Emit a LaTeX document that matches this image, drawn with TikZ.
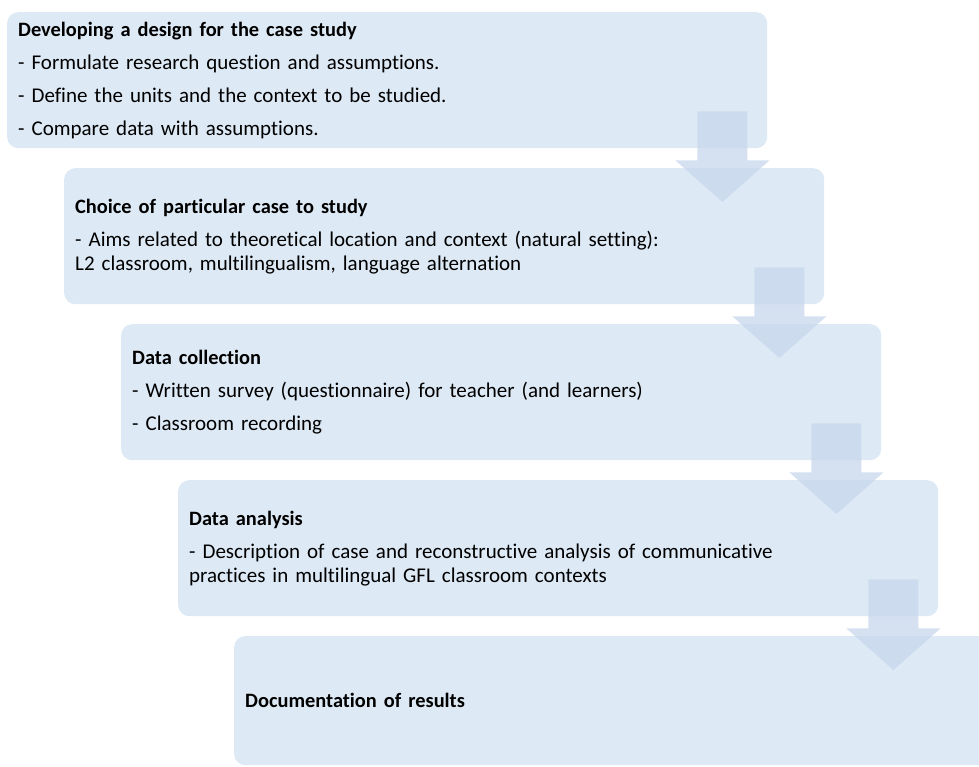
\documentclass[tikz,border=0pt]{standalone}
\usepackage{fontspec}
\setmainfont{Carlito}[Ligatures=NoCommon]
\usetikzlibrary{calc}
\definecolor{stepfill}{RGB}{221,233,245}
\definecolor{flowfill}{RGB}{202,216,237}
% bold heading line of a step
\newcommand\steptitle[1]{{\fontsize{20.4}{24}\selectfont\bfseries #1}}
% block arrow from one step down into the next
\newcommand\flowstep[2]{%
  \coordinate (#1mid) at ($(#1.south east)+(-45,0)$);
  \fill[flowarrow] ($(#1mid)+(-25,-37)$) -- ++(50,0) -- ++(0,49) -- ++(22,0)
    -- ($(#1mid |- #2.north)+(0,34)$) -- ($(#1mid)+(-47,12)$) -- ++(22,0) -- cycle;}
\begin{document}
\begin{tikzpicture}[x=1pt,y=-1pt,
  stepbox/.style={fill=stepfill, rounded corners=11pt, anchor=north west,
    minimum width=760pt, minimum height=136pt, inner xsep=11pt, inner ysep=0pt,
    text width=738pt, align=left, font=\fontsize{21}{24}\selectfont},
  flowarrow/.style={fill=flowfill, fill opacity=0.8}]
\useasboundingbox (0,0) rectangle (979,767);
\clip (0,0) rectangle (979,767);

\node[stepbox] (s1) at (7,12) {\steptitle{Developing a design for the case study}\\[9pt]
  - Formulate research question and assumptions.\\[9pt]
  - Define the units and the context to be studied.\\[9pt]
  - Compare data with assumptions.};
\node[stepbox] (s2) at (64,168) {\steptitle{Choice of particular case to study}\\[9pt]
  - Aims related to theoretical location and context (natural setting):\\
  L2 classroom, multilingualism, language alternation};
\node[stepbox] (s3) at (121,324) {\steptitle{Data collection}\\[9pt]
  - Written survey (questionnaire) for teacher (and learners)\\[9pt]
  - Classroom recording};
\node[stepbox] (s4) at (178,480) {\steptitle{Data analysis}\\[9pt]
  - Description of case and reconstructive analysis of communicative\\
  practices in multilingual GFL classroom contexts};
\node[stepbox, minimum height=129pt] (s5) at (234,636) {\steptitle{Documentation of results}};

\flowstep{s1}{s2}
\flowstep{s2}{s3}
\flowstep{s3}{s4}
\flowstep{s4}{s5}
\end{tikzpicture}
\end{document}
